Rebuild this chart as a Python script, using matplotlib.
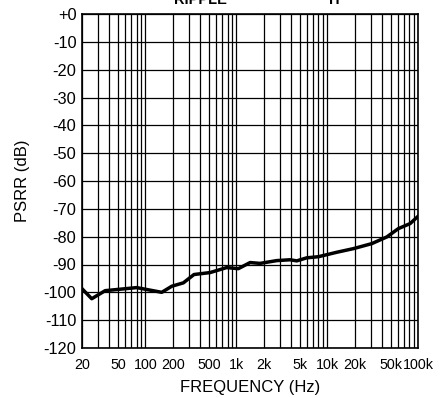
import matplotlib
matplotlib.use("Agg")
import matplotlib.pyplot as plt
import numpy as np
from matplotlib.ticker import FixedLocator, LogLocator, NullFormatter

plt.rcParams['font.family'] = ['Liberation Sans', 'DejaVu Sans']

freq_hz = [20, 25.6, 36, 80, 151, 195, 261, 342, 514, 784, 1052, 1417, 1825,
           2787, 3900, 4625, 5966, 8016, 12770, 19440, 30980, 45380, 60850,
           81900, 100000]
psrr_db = [-98.7, -102.3, -99.4, -98.3, -100.0, -97.8, -96.6, -93.6, -92.9,
           -91.1, -91.5, -89.3, -89.6, -88.6, -88.3, -88.7, -87.6, -87.2,
           -85.6, -84.3, -82.5, -80.1, -77.1, -75.3, -72.7]

xticks = [20, 50, 100, 200, 500, 1e3, 2e3, 5e3, 1e4, 2e4, 5e4, 1e5]
xticklabels = ["20", "50", "100", "200", "500", "1k", "2k", "5k", "10k",
               "20k", "50k", "100k"]
yticks = list(range(0, -130, -10))
yticklabels = ["+0"] + [str(v) for v in yticks[1:]]

fig = plt.figure(figsize=(4.43, 3.98), dpi=100)
ax = fig.add_axes([82/443, 50/398, 336/443, 334/398])

ax.set_xscale('log')
ax.set_xlim(20, 1e5)
ax.set_ylim(-120, 0)

ax.xaxis.set_major_locator(FixedLocator(xticks))
ax.set_xticklabels(xticklabels)
ax.xaxis.set_minor_locator(LogLocator(base=10, subs=np.arange(1, 10), numticks=20))
ax.xaxis.set_minor_formatter(NullFormatter())
ax.set_yticks(yticks)
ax.set_yticklabels(yticklabels)

ax.grid(True, which='both', axis='x', color='black', linewidth=0.9)
ax.grid(True, which='major', axis='y', color='black', linewidth=0.9)
ax.tick_params(which='both', length=0, colors='black')
ax.tick_params(axis='x', pad=7, labelsize=10.3)
ax.tick_params(axis='y', pad=4, labelsize=11.8)
for lbl in ax.get_xticklabels():
    lbl.set_x(lbl.get_position()[0])
for s in ax.spines.values():
    s.set_color('black')
    s.set_linewidth(1.2)

ax.plot(freq_hz, psrr_db, color='black', linewidth=2.5, solid_joinstyle='round')

ax.set_ylabel("PSRR (dB)", fontsize=12, labelpad=10)
ax.set_xlabel("FREQUENCY (Hz)", fontsize=12, labelpad=6)

fig.text(200/443, 1 - 4/398, "RIPPLE", ha='center', va='baseline',
         fontsize=10.5, fontweight='bold')
fig.text(334/443, 1 - 4/398, "H", ha='center', va='baseline',
         fontsize=10.5, fontweight='bold')

fig.savefig("out.png", dpi=100)
